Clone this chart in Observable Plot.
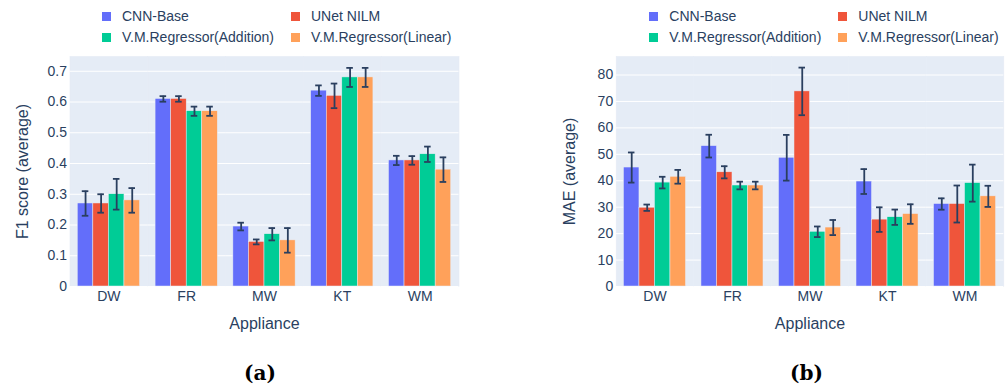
<!DOCTYPE html>
<html>
<head>
<meta charset="utf-8">
<script src="https://cdn.jsdelivr.net/npm/d3@7"></script>
<script src="https://cdn.jsdelivr.net/npm/@observablehq/plot@0.6"></script>
<style>
  body { margin: 0; background: #fff; font-family: "Liberation Sans", Arial, sans-serif; color: #2a3f5f; }
  #page { position: relative; width: 1007px; height: 385px; overflow: hidden; }
  .panel { position: absolute; top: 0; height: 385px; }
  .legend { position: absolute; top: 6px; display: grid; grid-template-columns: 189px auto; font-size: 14px; line-height: 21px; }
  .item { display: flex; align-items: center; white-space: nowrap; }
  .sw { width: 9px; height: 9px; margin-right: 11px; flex: none; }
  .chart { position: absolute; top: 46px; left: 0; }
  .caption { position: absolute; top: 361px; width: 200px; text-align: center; font: bold 20px "DejaVu Serif", serif; color: #000; line-height: 24px; }
  g[aria-label="y-axis label"], g[aria-label="fx-axis label"] { font-size: 16px; }
</style>
</head>
<body>
<div id="page"></div>
<script>
// Appliances on the category axis and the four compared models
const appliances = ["DW", "FR", "MW", "KT", "WM"];
const models = ["CNN-Base", "UNet NILM", "V.M.Regressor(Addition)", "V.M.Regressor(Linear)"];
const palette = ["#636EFA", "#EF553B", "#00CC96", "#FFA15A"];

// F1 score (average) per model, one value per appliance, with error half-widths
const cnnF1 = [0.27, 0.61, 0.195, 0.637, 0.41];
const unetF1 = [0.27, 0.61, 0.145, 0.62, 0.41];
const addF1 = [0.30, 0.57, 0.17, 0.68, 0.43];
const linF1 = [0.28, 0.57, 0.15, 0.68, 0.38];
const cnnF1Err = [0.04, 0.009, 0.0125, 0.017, 0.015];
const unetF1Err = [0.03, 0.009, 0.008, 0.04, 0.014];
const addF1Err = [0.05, 0.015, 0.02, 0.031, 0.025];
const linF1Err = [0.04, 0.015, 0.04, 0.031, 0.04];
const f1Ticks = [0, 0.1, 0.2, 0.3, 0.4, 0.5, 0.6, 0.7];

// MAE (average) per model, one value per appliance, with error half-widths
const cnnMae = [45.0, 53.1, 48.7, 39.7, 31.2];
const unetMae = [29.8, 43.2, 73.8, 25.3, 31.2];
const addMae = [39.3, 38.2, 20.7, 26.2, 39.1];
const linMae = [41.5, 38.2, 22.3, 27.4, 34.1];
const cnnMaeErr = [5.7, 4.3, 8.65, 4.7, 2.15];
const unetMaeErr = [1.2, 2.3, 9.0, 4.65, 7.0];
const addMaeErr = [2.2, 1.45, 2.0, 2.9, 7.0];
const linMaeErr = [2.6, 1.45, 2.85, 3.7, 4.0];
const maeTicks = [0, 10, 20, 30, 40, 50, 60, 70, 80];

const BG = "#E5ECF6";
const INK = "#2a3f5f";

function tidy(values, errs) {
  const rows = [];
  models.forEach((m, i) => appliances.forEach((a, j) =>
    rows.push({appliance: a, model: m, value: values[i][j], err: errs[i][j]})));
  return rows;
}

function chart({values, errs, yMax, ticks, yLabel, width, marginLeft, marginRight}) {
  const rows = tidy(values, errs);
  const lo = d => d.value - d.err;
  const hi = d => d.value + d.err;
  return Plot.plot({
    width, height: 300,
    marginTop: 10, marginBottom: 60, marginLeft, marginRight,
    style: {fontFamily: '"Liberation Sans", Arial, sans-serif', fontSize: "14px", color: INK, background: "transparent", overflow: "visible"},
    fx: {domain: appliances, paddingInner: 0, paddingOuter: 0, round: false},
    x: {domain: models, paddingInner: 0, paddingOuter: 0.5, round: false, axis: null},
    y: {domain: [0, yMax]},
    color: {domain: models, range: palette},
    marks: [
      Plot.frame({fill: BG, stroke: BG, strokeWidth: 0.6}),
      Plot.gridY(ticks, {stroke: "white", strokeOpacity: 1, strokeWidth: 1}),
      Plot.barY(rows, {fx: "appliance", x: "model", y: "value", fill: "model", stroke: BG, strokeWidth: 0.5}),
      Plot.ruleX(rows, {fx: "appliance", x: "model", y1: lo, y2: hi, stroke: INK, strokeWidth: 1.8}),
      Plot.tickY(rows, {fx: "appliance", x: "model", y: lo, stroke: INK, strokeWidth: 1.8, insetLeft: 4.5, insetRight: 4.5}),
      Plot.tickY(rows, {fx: "appliance", x: "model", y: hi, stroke: INK, strokeWidth: 1.8, insetLeft: 4.5, insetRight: 4.5}),
      Plot.axisY(ticks, {tickSize: 0, tickPadding: 3, tickFormat: d => `${d}`, fontSize: 14,
        label: yLabel, labelAnchor: "center", labelOffset: 53, labelArrow: "none"}),
      Plot.axisFx({anchor: "bottom", tickSize: 0, tickPadding: 5, fontSize: 14,
        label: "Appliance", labelAnchor: "center", labelOffset: 42, labelArrow: "none"})
    ]
  });
}

function legend(left) {
  const div = document.createElement("div");
  div.className = "legend";
  div.style.left = left + "px";
  models.forEach((m, i) => {
    const item = document.createElement("div");
    item.className = "item";
    const sw = document.createElement("span");
    sw.className = "sw";
    sw.style.background = palette[i];
    const label = document.createElement("span");
    label.textContent = m;
    item.append(sw, label);
    div.append(item);
  });
  return div;
}

function panel({left, width, legendLeft, captionLeft, caption, plot}) {
  const p = document.createElement("div");
  p.className = "panel";
  p.style.left = left + "px";
  p.style.width = width + "px";
  p.append(legend(legendLeft));
  const c = document.createElement("div");
  c.className = "chart";
  c.append(plot);
  p.append(c);
  const cap = document.createElement("div");
  cap.className = "caption";
  cap.style.left = captionLeft + "px";
  cap.textContent = caption;
  p.append(cap);
  return p;
}

const page = document.getElementById("page");

page.append(panel({
  left: 0, width: 500, legendLeft: 102, captionLeft: 160, caption: "(a)",
  plot: chart({
    values: [cnnF1, unetF1, addF1, linF1],
    errs: [cnnF1Err, unetF1Err, addF1Err, linF1Err],
    yMax: 0.748, ticks: f1Ticks, yLabel: "F1 score (average)",
    width: 500, marginLeft: 69.5, marginRight: 41.5
  })
}));

page.append(panel({
  left: 500, width: 507, legendLeft: 149.3, captionLeft: 206.5, caption: "(b)",
  plot: chart({
    values: [cnnMae, unetMae, addMae, linMae],
    errs: [cnnMaeErr, unetMaeErr, addMaeErr, linMaeErr],
    yMax: 87, ticks: maeTicks, yLabel: "MAE (average)",
    width: 507, marginLeft: 115.7, marginRight: 3.7
  })
}));
</script>
</body>
</html>
